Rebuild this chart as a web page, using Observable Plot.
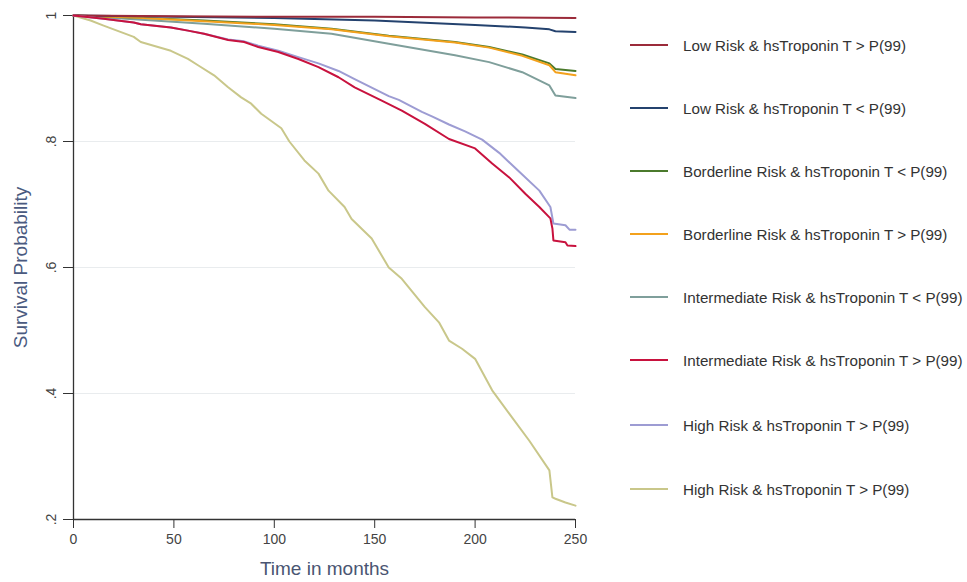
<!DOCTYPE html>
<html>
<head>
<meta charset="utf-8">
<script src="https://cdn.jsdelivr.net/npm/d3@7"></script>
<script src="https://cdn.jsdelivr.net/npm/@observablehq/plot@0.6"></script>
<style>
  body { margin: 0; background: #fff; font-family: "Liberation Sans", Arial, sans-serif; }
  #wrap { position: relative; width: 967px; height: 582px; }
  #chart { position: absolute; left: 0; top: 0; }
  #legend { position: absolute; left: 0; top: 0; }
  .item { position: absolute; display: flex; align-items: center; font-size: 15.2px; color: #333; white-space: nowrap; }
  .swatch { width: 38px; height: 2px; margin-right: 15px; }
</style>
</head>
<body>
<div id="wrap"><div id="chart"></div><div id="legend"></div></div>
<script>
// ---- Data ----
const seriesNames = [
  "Low Risk & hsTroponin T > P(99)",
  "Low Risk & hsTroponin T < P(99)",
  "Borderline Risk & hsTroponin T < P(99)",
  "Borderline Risk & hsTroponin T > P(99)",
  "Intermediate Risk & hsTroponin T < P(99)",
  "Intermediate Risk & hsTroponin T > P(99)",
  "High Risk & hsTroponin T > P(99)",
  "High Risk & hsTroponin T > P(99) "
];
const seriesColors = ["#9b2b3a", "#24426e", "#4b7a2c", "#f3a11c", "#7f9f9b", "#c8123e", "#9d9cd3", "#c9c78a"];

const lowHiT = [0, 50, 100, 150, 200, 250];
const lowHiS = [1, 0.999, 0.998, 0.998, 0.997, 0.996];

const lowLoT = [0, 50, 100, 150, 200, 225, 237, 240, 250];
const lowLoS = [1, 0.998, 0.996, 0.992, 0.985, 0.981, 0.978, 0.975, 0.974];

const bordLoT = [0, 30, 65, 100, 128.5, 157, 190, 207, 223.5, 237, 240, 250];
const bordLoS = [1, 0.997, 0.992, 0.986, 0.979, 0.968, 0.958, 0.950, 0.938, 0.924, 0.915, 0.912];

const bordHiT = [0, 30, 65, 100, 128.5, 157, 190, 207, 223.5, 237, 240, 250];
const bordHiS = [1, 0.997, 0.991, 0.985, 0.978, 0.967, 0.957, 0.949, 0.936, 0.921, 0.910, 0.905];

const interLoT = [0, 30, 65, 100, 128.5, 157, 190, 207, 223.5, 237, 240, 250];
const interLoS = [1, 0.994, 0.987, 0.979, 0.971, 0.955, 0.937, 0.926, 0.910, 0.889, 0.873, 0.869];

const interHiT = [0, 15, 30, 33.5, 48.5, 57, 65, 77, 85, 92, 102, 112, 122, 132, 140, 153.5, 163.5, 175, 187, 200, 208.5, 217, 225, 232, 237.5, 238.5, 239, 245, 246, 250];
const interHiS = [1, 0.995, 0.989, 0.986, 0.981, 0.976, 0.971, 0.961, 0.958, 0.950, 0.942, 0.931, 0.918, 0.902, 0.886, 0.865, 0.849, 0.828, 0.804, 0.789, 0.765, 0.743, 0.717, 0.696, 0.678, 0.662, 0.643, 0.640, 0.635, 0.634];

const highAT = [0, 15, 30, 33.5, 48.5, 57, 65, 77, 85, 92, 102, 112, 122, 132, 140, 157, 162, 173.5, 178.5, 187, 195, 203.5, 212, 222, 232, 237.5, 239, 245, 247, 250];
const highAS = [1, 0.995, 0.989, 0.986, 0.981, 0.976, 0.971, 0.962, 0.959, 0.952, 0.944, 0.934, 0.924, 0.912, 0.899, 0.872, 0.866, 0.847, 0.840, 0.827, 0.816, 0.803, 0.782, 0.752, 0.722, 0.696, 0.670, 0.667, 0.660, 0.660];

const highBT = [0, 8.5, 15, 30, 33.5, 48.5, 57, 62, 70, 77, 83.5, 88.5, 93.5, 103.5, 107.5, 115, 122, 127, 135, 138.5, 148.5, 157, 163.5, 175, 182, 187, 193.5, 200, 208.5, 217, 227, 237, 238.5, 240, 245, 250];
const highBS = [1, 0.992, 0.984, 0.966, 0.958, 0.944, 0.931, 0.921, 0.905, 0.886, 0.870, 0.860, 0.844, 0.821, 0.800, 0.770, 0.749, 0.722, 0.696, 0.677, 0.646, 0.600, 0.582, 0.537, 0.513, 0.484, 0.471, 0.455, 0.405, 0.368, 0.325, 0.278, 0.235, 0.233, 0.227, 0.222];

const xTicks = [0, 50, 100, 150, 200, 250];
const yTicks = [0.2, 0.4, 0.6, 0.8, 1];
const gridTicks = [0.4, 0.6, 0.8];

// ---- Build table ----
const seriesT = [lowHiT, lowLoT, bordLoT, bordHiT, interLoT, interHiT, highAT, highBT];
const seriesS = [lowHiS, lowLoS, bordLoS, bordHiS, interLoS, interHiS, highAS, highBS];
const rows = [];
seriesNames.forEach((name, i) => {
  seriesT[i].forEach((t, j) => rows.push({series: name, t, s: seriesS[i][j]}));
});
const drawOrder = [7, 4, 2, 3, 1, 0, 6, 5];

const fmt = d => d === 1 ? "1" : String(+d.toFixed(1)).replace("0.", ".");

const plot = Plot.plot({
  width: 600,
  height: 582,
  marginLeft: 73,
  marginRight: 25,
  marginTop: 15,
  marginBottom: 63,
  style: {fontFamily: "'Liberation Sans', Arial, sans-serif", fontSize: "14px", color: "#444", background: "#fff"},
  x: {domain: [0, 250], ticks: xTicks},
  y: {domain: [0.2, 1], ticks: yTicks},
  color: {domain: seriesNames, range: seriesColors},
  marks: [
    Plot.ruleY(gridTicks, {stroke: "#e9ecee", strokeWidth: 1.2}),
    Plot.axisX({ticks: xTicks, tickSize: 9, tickPadding: 6, fontSize: 14, stroke: "#333", label: null}),
    Plot.axisY({ticks: yTicks, tickSize: 10, tickPadding: 8, tickRotate: -90, tickFormat: fmt, fontSize: 14, stroke: "#333", label: null}),
    Plot.ruleX([0], {stroke: "#333", strokeWidth: 1.3}),
    Plot.ruleY([0.2], {stroke: "#333", strokeWidth: 1.3}),
    ...drawOrder.map(i => Plot.line(rows.filter(r => r.series === seriesNames[i]), {
      x: "t", y: "s", stroke: seriesColors[i], strokeWidth: 2
    })),
    Plot.text(["Time in months"], {frameAnchor: "bottom", dy: 55, fontSize: 19, fill: "#4a5572"}),
    Plot.text(["Survival Probability"], {frameAnchor: "left", dx: -53, rotate: -90, textAnchor: "middle", fontSize: 19, fill: "#4a5a80"})
  ]
});
document.getElementById("chart").appendChild(plot);

// ---- Legend ----
const legendY = [45, 108, 171, 234, 297, 360, 425, 489];
const legend = document.getElementById("legend");
seriesNames.forEach((name, i) => {
  const item = document.createElement("div");
  item.className = "item";
  item.style.left = "630px";
  item.style.top = (legendY[i] - 9) + "px";
  item.style.height = "18px";
  const sw = document.createElement("div");
  sw.className = "swatch";
  sw.style.background = seriesColors[i];
  const tx = document.createElement("span");
  tx.textContent = name.trim();
  item.appendChild(sw);
  item.appendChild(tx);
  legend.appendChild(item);
});
</script>
</body>
</html>
